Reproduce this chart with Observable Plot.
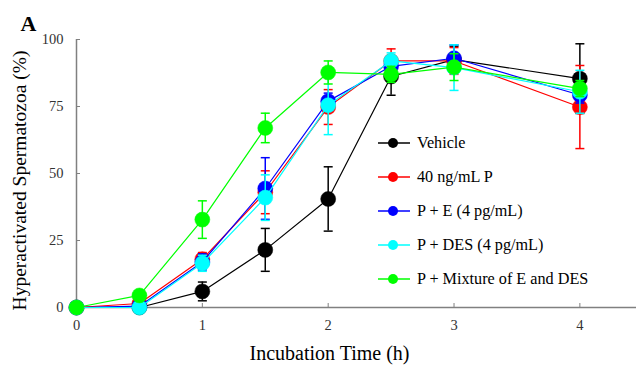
<!DOCTYPE html>
<html>
<head>
<meta charset="utf-8">
<script src="https://cdn.jsdelivr.net/npm/d3@7"></script>
<script src="https://cdn.jsdelivr.net/npm/@observablehq/plot@0.6"></script>
<style>
  body { margin: 0; background: #fff; }
  #wrap { position: relative; width: 639px; height: 372px; }
  #legend { position: absolute; left: 378px; top: 126px; }
  .row { height: 34px; display: flex; align-items: center; font-size: 16.2px; color: #000; font-family: "Liberation Serif", serif; }
  .row svg { margin-right: 6px; }
</style>
</head>
<body>
<div id="wrap"></div>
<script>
const times = [0, 0.5, 1, 1.5, 2, 2.5, 3, 4];
const seriesNames = ["Vehicle", "40 ng/mL P", "P + E (4 pg/mL)", "P + DES (4 pg/mL)", "P + Mixture of E and DES"];
const seriesColors = ["#000000", "#ff0000", "#0000ff", "#00ffff", "#00ff00"];
const vehicle    = [0, 0,   6,    21.5, 40.5, 86.2, 92.5, 85.4];
const vehicleErr = [0, 0,   3.5,  8,    12,   7,    5,    13];
const p40        = [0, 1.5, 18,   43,   74.8, 92,   92,   74.8];
const p40Err     = [0, 0.5, 2.5,  8,    6.5,  4.5,  5,    15.5];
const pE         = [0, 0.5, 17,   44.4, 77,   90,   93,   79.3];
const pEErr      = [0, 0.5, 3,    11.5, 3,    3,    5,    3];
const pDES       = [0, 0,   16.5, 41,   75.5, 92,   89.5, 80.5];
const pDESErr    = [0, 0,   3,    8.5,  11,   3,    8.5,  8];
const mix        = [0, 4.5, 32.8, 67,   87.7, 87,   89.7, 81.7];
const mixErr     = [0, 0.5, 7,    5.5,  4.3,  3,    5,    3];
const xTicks = [0, 1, 2, 3, 4];
const yTicks = [0, 25, 50, 75, 100];

const seriesValues = [vehicle, p40, pE, pDES, mix];
const seriesErrors = [vehicleErr, p40Err, pEErr, pDESErr, mixErr];
const serif = "'Liberation Serif', serif";

const capSymbol = {
  draw(context, size) {
    const w = Math.sqrt(size / Math.PI);
    context.moveTo(-w, 0);
    context.lineTo(w, 0);
  }
};

const marks = [
  Plot.ruleY([0], {stroke: "#808080", strokeWidth: 1.5}),
  Plot.ruleX([0], {stroke: "#808080", strokeWidth: 1.5}),
  Plot.axisX(xTicks, {tickSize: -4, tickPadding: 16, tickFormat: d3.format("d"), stroke: "#808080", fill: "#333", fontSize: 14.5, fontFamily: serif, label: null}),
  Plot.axisY(yTicks, {tickSize: -4, tickPadding: 17, tickFormat: d3.format("d"), stroke: "#808080", fill: "#333", fontSize: 14.5, fontFamily: serif, label: null})
];

seriesNames.forEach((name, i) => {
  const data = times.map((t, j) => ({t, v: seriesValues[i][j], e: seriesErrors[i][j]}));
  const color = seriesColors[i];
  marks.push(
    Plot.line(data, {x: "t", y: "v", stroke: color, strokeWidth: 1.2}),
    Plot.ruleX(data.filter(d => d.e > 0), {x: "t", y1: d => d.v - d.e, y2: d => d.v + d.e, stroke: color, strokeWidth: 1.5}),
    Plot.dot(data.filter(d => d.e > 0), {x: "t", y: d => d.v - d.e, symbol: capSymbol, r: 4.5, stroke: color, strokeWidth: 1.5}),
    Plot.dot(data.filter(d => d.e > 0), {x: "t", y: d => d.v + d.e, symbol: capSymbol, r: 4.5, stroke: color, strokeWidth: 1.5}),
    Plot.dot(data, {x: "t", y: "v", r: 7.5, fill: color, stroke: color, strokeWidth: 0.5})
  );
});

marks.push(
  Plot.text(["Hyperactivated Spermatozoa (%)"], {frameAnchor: "left", textAnchor: "middle", dx: -57, dy: 7, rotate: -90, fontSize: 19.5, fontFamily: serif, fill: "#000", text: d => d}),
  Plot.text(["Incubation Time (h)"], {frameAnchor: "bottom", dx: -27, dy: 52, fontSize: 20, fontFamily: serif, fill: "#000", text: d => d}),
  Plot.text(["A"], {frameAnchor: "top-left", textAnchor: "start", dx: -56, dy: -24, fontSize: 22, fontWeight: "bold", fontFamily: serif, fill: "#000", text: d => d})
);

const chart = Plot.plot({
  width: 639,
  height: 372,
  marginLeft: 76,
  marginRight: 3,
  marginTop: 39,
  marginBottom: 65,
  style: {fontFamily: serif, background: "#fff", overflow: "visible"},
  x: {domain: [0, 4.45]},
  y: {domain: [0, 100]},
  marks
});
const wrap = document.getElementById("wrap");
wrap.appendChild(chart);

const legend = document.createElement("div");
legend.id = "legend";
seriesNames.forEach((name, i) => {
  const row = document.createElement("div");
  row.className = "row";
  row.innerHTML = `<svg width="33" height="12"><line x1="0" x2="32" y1="6" y2="6" stroke="${seriesColors[i]}" stroke-width="1.5"/><circle cx="15" cy="6" r="5" fill="${seriesColors[i]}"/></svg><span>${name}</span>`;
  legend.appendChild(row);
});
wrap.appendChild(legend);
</script>
</body>
</html>
